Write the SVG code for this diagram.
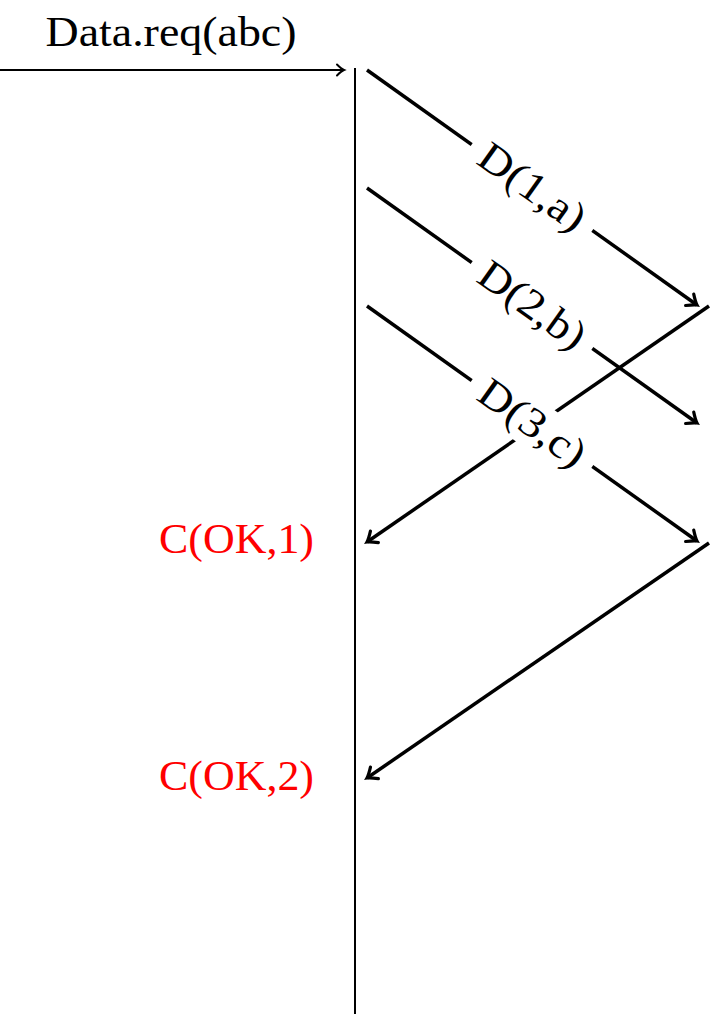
<svg xmlns="http://www.w3.org/2000/svg" width="711" height="1016" viewBox="0 0 711 1016">
<style>
.t{font-family:"Liberation Serif","DejaVu Serif",serif;font-size:42px;fill:#000}
.r{fill:#ff0000}
.thin{stroke:#000;stroke-width:2;fill:none}
.msg{stroke:#000;stroke-width:3.5;fill:none;stroke-linecap:butt}
</style>
<defs>
<marker id="ah" markerUnits="userSpaceOnUse" markerWidth="20" markerHeight="20" refX="0" refY="0" viewBox="-12 -10 14 20" orient="auto" overflow="visible">
<path d="M-9,-7 Q-3,-1.5 0,0 Q-3,1.5 -9,7" fill="none" stroke="#000" stroke-width="3.2" stroke-linecap="round"/>
</marker>
<marker id="ahs" markerUnits="userSpaceOnUse" markerWidth="20" markerHeight="20" refX="0" refY="0" viewBox="-12 -10 14 20" orient="auto" overflow="visible">
<path d="M-7,-5.5 Q-2.5,-1 0,0 Q-2.5,1 -7,5.5" fill="none" stroke="#000" stroke-width="2" stroke-linecap="round"/>
</marker>
</defs>
<g id="connectors">
<line class="thin" x1="0" y1="70" x2="344" y2="70" marker-end="url(#ahs)"/>
<line class="thin" x1="355" y1="68" x2="355" y2="1014"/>
<line class="msg" x1="367" y1="70" x2="697" y2="305" marker-end="url(#ah)"/>
<line class="msg" x1="367" y1="188" x2="697" y2="423" marker-end="url(#ah)"/>
<line class="msg" x1="367" y1="306" x2="697" y2="541" marker-end="url(#ah)"/>
<line class="msg" x1="709" y1="306" x2="367" y2="542" marker-end="url(#ah)"/>
<line class="msg" x1="709" y1="543" x2="367" y2="778" marker-end="url(#ah)"/>
</g>
<g id="label-datareq"><text class="t" x="171" y="46" text-anchor="middle" textLength="251" lengthAdjust="spacingAndGlyphs">Data.req(abc)</text></g>
<g id="label-d1" transform="translate(532,187.5) rotate(35.46)">
<rect x="-74" y="-24" width="148" height="48" fill="#fff"/>
<text class="t" x="0" y="13" text-anchor="middle" textLength="122" lengthAdjust="spacingAndGlyphs">D(1,a)</text>
</g>
<g id="label-d2" transform="translate(532,305.5) rotate(35.46)">
<rect x="-74" y="-24" width="148" height="48" fill="#fff"/>
<text class="t" x="0" y="13" text-anchor="middle" textLength="122" lengthAdjust="spacingAndGlyphs">D(2,b)</text>
</g>
<g id="label-d3" transform="translate(532,423.5) rotate(35.46)">
<rect x="-74" y="-24" width="148" height="48" fill="#fff"/>
<text class="t" x="0" y="13" text-anchor="middle" textLength="122" lengthAdjust="spacingAndGlyphs">D(3,c)</text>
</g>
<g id="label-c1"><text class="t r" x="314" y="553" text-anchor="end" textLength="155" lengthAdjust="spacingAndGlyphs">C(OK,1)</text></g>
<g id="label-c2"><text class="t r" x="314" y="790" text-anchor="end" textLength="155" lengthAdjust="spacingAndGlyphs">C(OK,2)</text></g>
</svg>
